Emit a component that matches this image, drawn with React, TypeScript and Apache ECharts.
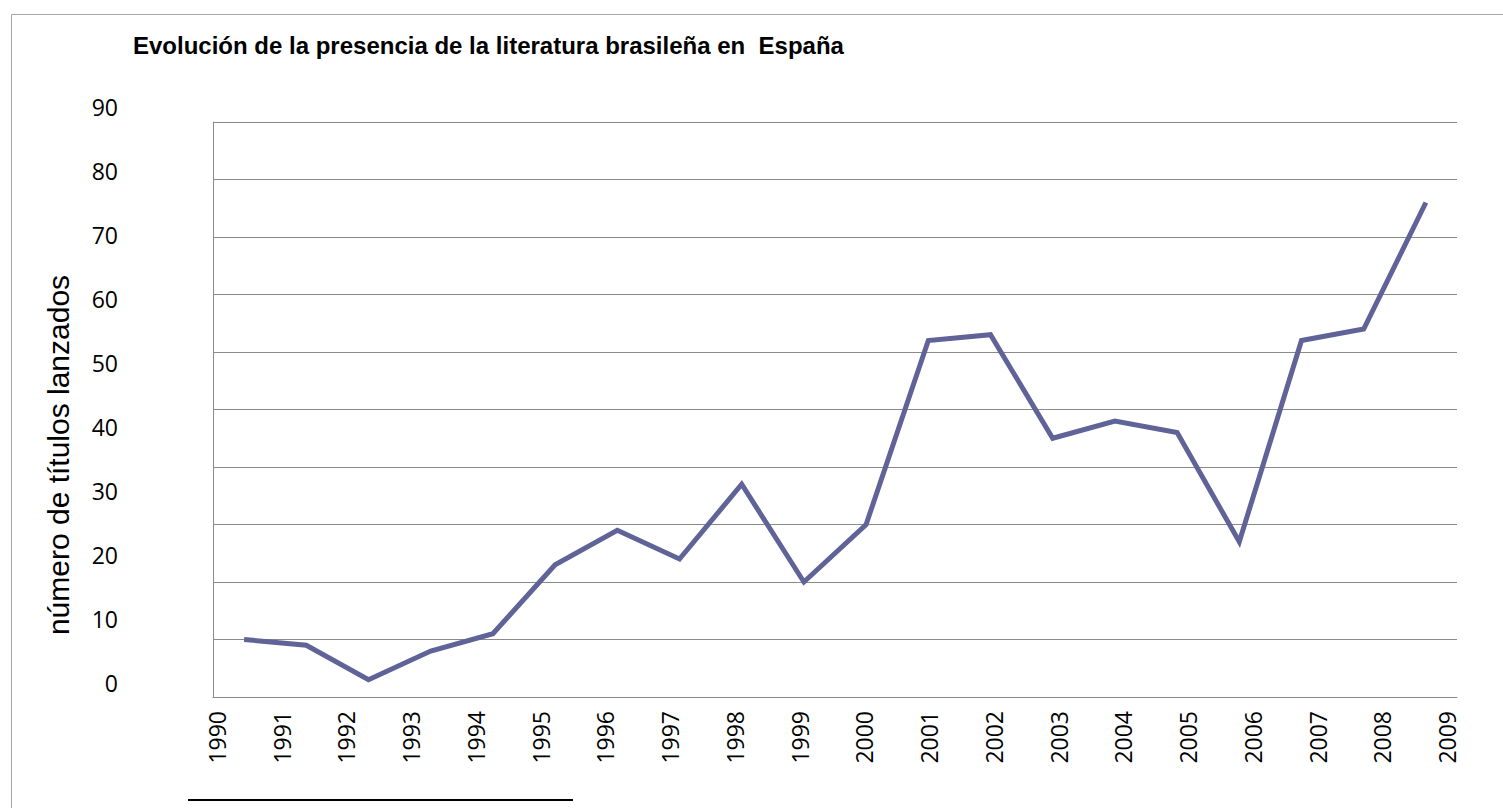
import React, { useEffect, useRef } from "react";
import * as echarts from "echarts";

const years = [
  "1990", "1991", "1992", "1993", "1994", "1995", "1996", "1997", "1998", "1999",
  "2000", "2001", "2002", "2003", "2004", "2005", "2006", "2007", "2008", "2009",
];
const titlesLaunched = [10, 9, 3, 8, 11, 23, 29, 24, 37, 20, 30, 62, 63, 45, 48, 46, 27, 62, 64, 86];
const chartTitle = "Evolución de la presencia de la literatura brasileña en  España";
const yAxisTitle = "número de títulos lanzados";

export default function App() {
  const ref = useRef<HTMLDivElement>(null);
  useEffect(() => {
    if (!ref.current) return;
    const chart = echarts.init(ref.current, null, { renderer: "svg" });
    const gridColor = "#8a8a8a";
    chart.setOption({
      animation: false,
      backgroundColor: "#ffffff",
      title: {
        text: chartTitle,
        left: 133,
        top: 33,
        padding: 0,
        textStyle: { fontFamily: "Liberation Sans", fontWeight: "bold", fontSize: 24, color: "#000" },
      },
      grid: [
        { left: 213, right: 46, top: 122, bottom: 111 },
        { left: 126, width: 10, top: 107, bottom: 125 },
        { left: 217, right: 56, top: 600, bottom: 111 },
      ],
      xAxis: [
        {
          gridIndex: 0,
          type: "category",
          data: years,
          boundaryGap: true,
          axisLine: { show: true, lineStyle: { color: gridColor, width: 1 } },
          axisTick: { show: false },
          axisLabel: { show: false },
          splitLine: { show: false },
        },
        { gridIndex: 1, type: "value", show: false },
        {
          gridIndex: 2,
          type: "category",
          data: years,
          boundaryGap: false,
          axisLine: { show: false },
          axisTick: { show: false },
          splitLine: { show: false },
          axisLabel: {
            rotate: 90,
            interval: 0,
            margin: 14,
            fontSize: 23,
            fontFamily: "Open Sans",
            color: "#000",
          },
        },
      ],
      yAxis: [
        {
          gridIndex: 0,
          type: "value",
          min: 0,
          max: 100,
          interval: 10,
          axisLine: { show: true, lineStyle: { color: gridColor, width: 1 } },
          axisTick: { show: false },
          axisLabel: { show: false },
          splitLine: { show: true, lineStyle: { color: gridColor, width: 1 } },
        },
        {
          gridIndex: 1,
          type: "value",
          min: 0,
          max: 90,
          interval: 10,
          axisLine: { show: false },
          axisTick: { show: false },
          splitLine: { show: false },
          axisLabel: { margin: 8, fontSize: 23, fontFamily: "Open Sans", color: "#000" },
        },
        { gridIndex: 2, type: "value", show: false },
      ],
      series: [
        {
          type: "line",
          xAxisIndex: 0,
          yAxisIndex: 0,
          data: titlesLaunched,
          symbol: "none",
          showSymbol: false,
          lineStyle: { color: "#606397", width: 5, join: "miter" },
        },
      ],
      graphic: [
        {
          type: "rect",
          silent: true,
          shape: { x: 11.5, y: 14.5, width: 1700, height: 900 },
          style: { fill: "none", stroke: "#a6a6a6", lineWidth: 1 },
        },
        {
          type: "line",
          silent: true,
          shape: { x1: 188, y1: 800, x2: 573, y2: 800 },
          style: { stroke: "#000", lineWidth: 2 },
        },
        {
          type: "text",
          silent: true,
          x: 58,
          y: 455,
          rotation: Math.PI / 2,
          style: {
            text: yAxisTitle,
            fontSize: 30,
            fontFamily: "Liberation Sans",
            fill: "#000",
            align: "center",
            verticalAlign: "middle",
          },
        },
      ],
    });
    return () => chart.dispose();
  }, []);
  return (
    <div
      ref={ref}
      style={{ position: "fixed", left: 0, top: 0, width: 1503, height: 808, background: "#fff" }}
    />
  );
}
